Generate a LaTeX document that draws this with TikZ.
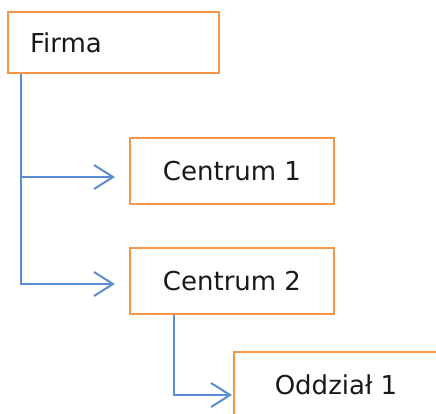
\documentclass[tikz,border=0pt]{standalone}
\usepackage{fontspec}
\setmainfont{DejaVu Sans}
\usetikzlibrary{arrows.meta}
\definecolor{boxorange}{HTML}{F79646}
\definecolor{lineblue}{HTML}{5B8BD0}
\tikzset{
  unit/.style = {draw = boxorange, line width = 2.2pt, fill = white, rectangle,
                 minimum width = 204pt, minimum height = 66pt, inner sep = 0pt,
                 font = \fontsize{26}{30}\selectfont, text = black!90},
  link/.style = {draw = lineblue, line width = 2pt,
                 -{Straight Barb[length = 19pt, width = 24pt, line width = 2pt]}}
}
\begin{document}
\begin{tikzpicture}[x = 1pt, y = -1pt]
					% page
					\useasboundingbox (0, 0) rectangle (436, 414);
					\clip (0, 0) rectangle (436, 414);
					% the units
					\node[unit, minimum width = 211pt, minimum height = 61pt,
					      text width = 167pt, align = left] (firma) at (113.5, 42.5) {Firma};
					\node[unit] (centrum1) at (232, 171) {Centrum 1};
					\node[unit] (centrum2) at (232, 281) {Centrum 2};
					\node[unit] (oddzial1) at (336, 385) {Oddzia\l{} 1};
					% links
					\draw[link, shorten >= 14pt] ([xshift = 14pt]firma.south west) |- ([yshift = -6pt]centrum1.west);
					\draw[link, shorten >= 14pt] ([xshift = 14pt]firma.south west) |- ([yshift = -3pt]centrum2.west);
					\draw[link, shorten >= 1pt] ([xshift = 45pt]centrum2.south west) |- ([yshift = -10pt]oddzial1.west);
\end{tikzpicture}
\end{document}
